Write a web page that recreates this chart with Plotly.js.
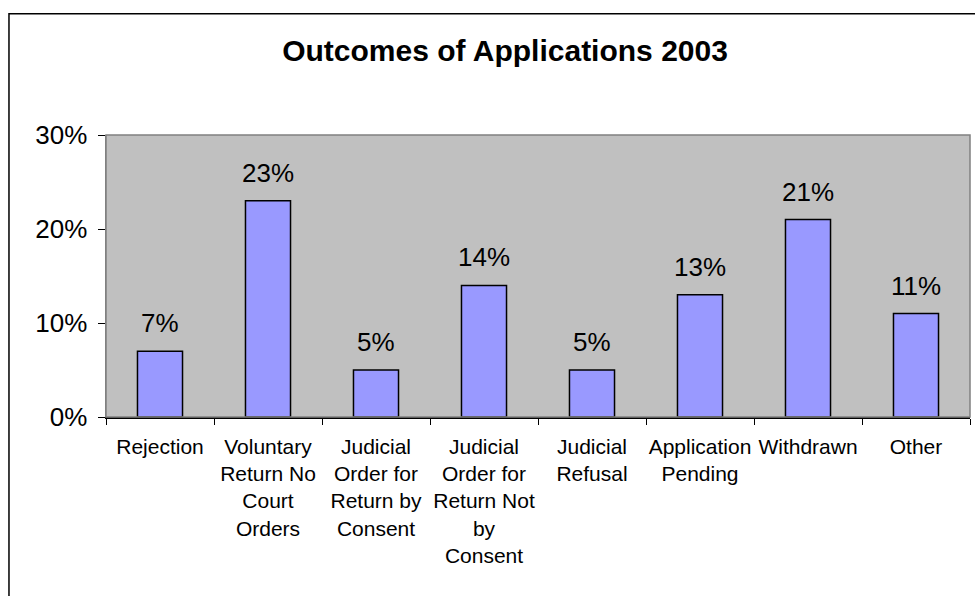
<!DOCTYPE html>
<html>
<head>
<meta charset="utf-8">
<script src="https://cdn.plot.ly/plotly-3.0.1.min.js"></script>
<style>
html,body{margin:0;padding:0;background:#fff;}
#chart{width:975px;height:596px;}
</style>
</head>
<body>
<div id="chart"></div>
<script>
var categories = ["Rejection", "Voluntary Return No Court Orders", "Judicial Order for Return by Consent", "Judicial Order for Return Not by Consent", "Judicial Refusal", "Application Pending", "Withdrawn", "Other"];
var tickLabels = ["Rejection", "Voluntary<br>Return No<br>Court<br>Orders", "Judicial<br>Order for<br>Return by<br>Consent", "Judicial<br>Order for<br>Return Not<br>by<br>Consent", "Judicial<br>Refusal", "Application<br>Pending", "Withdrawn", "Other"];
var values = [0.07, 0.23, 0.05, 0.14, 0.05, 0.13, 0.21, 0.11];
var valueLabels = ["7%", "23%", "5%", "14%", "5%", "13%", "21%", "11%"];
var chartTitle = "Outcomes of Applications 2003";

var FONT = "Liberation Sans, Arial, sans-serif";

var trace = {
  type: "bar",
  x: categories,
  y: values,
  marker: {color: "#9999FF", line: {color: "#000000", width: 1.5}},
  hoverinfo: "none"
};

var annotations = categories.map(function(c, i){
  return {
    x: c, y: values[i], xref: "x", yref: "y",
    text: valueLabels[i], showarrow: false,
    yanchor: "bottom", yshift: 11,
    font: {family: FONT, size: 26, color: "#000"}
  };
});

var layout = {
  width: 975, height: 596,
  margin: {l: 106, r: 5, t: 135, b: 178.5, pad: 0},
  paper_bgcolor: "#ffffff",
  plot_bgcolor: "#C0C0C0",
  bargap: 0.583,
  showlegend: false,
  title: {
    text: "<b>" + chartTitle + "</b>",
    x: 0.518, xref: "container", xanchor: "center",
    y: 0.916, yref: "container", yanchor: "middle",
    font: {family: FONT, size: 30, color: "#000"}
  },
  xaxis: {
    type: "category",
    tickmode: "array",
    tickvals: categories,
    ticktext: tickLabels,
    tickson: "boundaries",
    ticks: "outside", ticklen: 6, tickcolor: "#000", tickwidth: 1,
    ticklabelstandoff: 10,
    showline: true, linecolor: "#000", linewidth: 1.5,
    showgrid: false, zeroline: false,
    tickangle: 0,
    tickfont: {family: FONT, size: 21, color: "#000"}
  },
  yaxis: {
    range: [0, 0.3],
    dtick: 0.1, tick0: 0,
    tickformat: ".0%",
    ticks: "outside", ticklen: 7, tickcolor: "#000", tickwidth: 1,
    ticklabelstandoff: 5,
    showline: true, linecolor: "#808080", linewidth: 1.5,
    showgrid: false, zeroline: false,
    tickfont: {family: FONT, size: 26, color: "#000"}
  },
  annotations: annotations,
  shapes: [
    {type: "rect", xref: "paper", yref: "paper", x0: 0, x1: 1, y0: 0, y1: 1,
     line: {color: "#808080", width: 1.5}, fillcolor: "rgba(0,0,0,0)", layer: "above"},
    {type: "rect", xref: "paper", yref: "paper", x0: -0.1123, x1: 1.3, y0: -1, y1: 1.430,
     line: {color: "#000", width: 1.5}, fillcolor: "rgba(0,0,0,0)"}
  ]
};

Plotly.newPlot("chart", [trace], layout, {displayModeBar: false, staticPlot: true});
</script>
</body>
</html>
